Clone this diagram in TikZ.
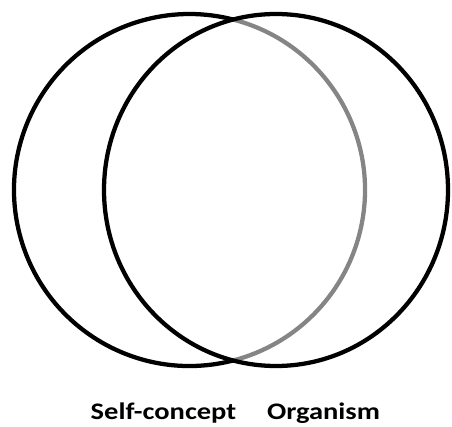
\documentclass[tikz,border=0pt]{standalone}
\usepackage{fontspec}
\setmainfont{Carlito}
\begin{document}
\begin{tikzpicture}[x=0.75pt,y=-0.75pt,
  ring/.style={line width=3.2pt,draw=black},
  grayring/.style={line width=3.2pt,draw=black!48},
  lbl/.style={font=\fontsize{17.8}{21}\selectfont\bfseries,anchor=base,inner sep=0pt}]
\useasboundingbox (0,0) rectangle (452,427);
\coordinate (cl) at (189.5,190);
\coordinate (cr) at (276,190);
% gray right arc of the self-concept circle
\draw[grayring] ([shift={(-75.5:175.5 and 176)}]cl) arc[start angle=-75.5,end angle=75.5,x radius=175.5,y radius=176];
% black remaining arc of the self-concept circle
\draw[ring] ([shift={(75.5:175.5 and 176)}]cl) arc[start angle=75.5,end angle=284.5,x radius=175.5,y radius=176];
% organism circle
\draw[ring] (cr) ellipse[x radius=172,y radius=176];
\node[lbl] (self) at (163.5,419.5) {\scalebox{1.2}[1]{Self-concept}};
\node[lbl] (org) at (323.5,419.5) {\scalebox{1.2}[1]{Organism}};
\end{tikzpicture}
\end{document}
